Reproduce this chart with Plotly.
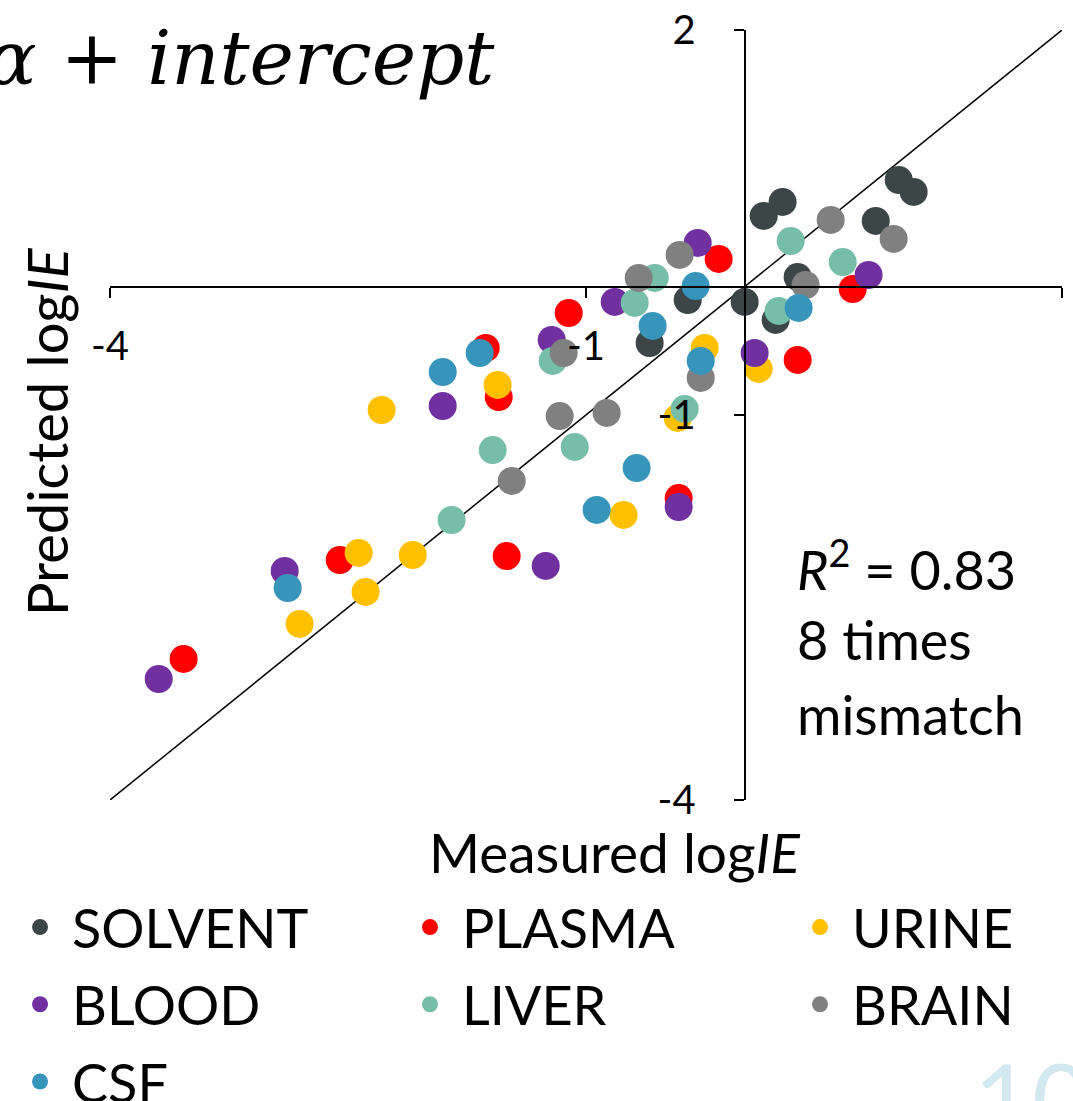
import plotly.graph_objects as go

# ---------------- data ----------------
series_names = ["SOLVENT", "PLASMA", "URINE", "BLOOD", "LIVER", "BRAIN", "CSF"]
series_colors = ["#3d4647", "#ff0000", "#ffc000", "#7030a0", "#76bea8", "#808080", "#3795bc"]

solvent_x = [0.971, 1.065, 0.239, 0.120, 0.826, 0.334, 0.000, -0.359, 0.195, -0.599]
solvent_y = [0.831, 0.738, 0.660, 0.551, 0.512, 0.076, -0.119, -0.104, -0.259, -0.439]

plasma_x = [-0.164, 0.681, -1.109, -1.632, -1.550, 0.334, -0.416, -2.552, -1.500, -3.536]
plasma_y = [0.216, -0.018, -0.205, -0.478, -0.860, -0.571, -1.647, -2.130, -2.099, -2.901]

urine_x = [-2.288, -1.557, -0.252, 0.088, -0.422, -0.763, -2.433, -2.092, -2.389, -2.805]
urine_y = [-0.961, -0.766, -0.478, -0.641, -1.023, -1.779, -2.075, -2.091, -2.379, -2.628]

blood_x = [-0.296, 0.781, -0.819, -1.216, -1.903, 0.063, -0.416, -1.254, -2.899, -3.693]
blood_y = [0.341, 0.091, -0.119, -0.415, -0.930, -0.517, -1.717, -2.176, -2.215, -3.057]

liver_x = [0.290, 0.618, -0.567, -0.693, 0.214, -1.210, -1.588, -1.071, -0.378, -1.847]
liver_y = [0.356, 0.192, 0.068, -0.127, -0.189, -0.579, -1.273, -1.249, -0.953, -1.818]

brain_x = [0.542, 0.939, -0.410, -0.668, 0.384, -1.141, -0.277, -1.166, -0.870, -1.468]
brain_y = [0.520, 0.372, 0.247, 0.068, 0.013, -0.517, -0.711, -1.008, -0.984, -1.514]

csf_x = [-0.309, 0.340, -0.580, -1.670, -1.903, -0.277, -0.681, -0.933, -2.880]
csf_y = [0.005, -0.166, -0.306, -0.517, -0.665, -0.579, -1.413, -1.740, -2.348]

identity_line = [-4, 2]

x_tickvals = [-4, -1, 2]
x_ticktext = ["-4", "-1", "2"]
y_tickvals = [-4, -1, 2]
y_ticktext = ["-4", "-1", "2"]

stats_lines = ["<i>R</i><sup>2</sup> = 0.83", "8 times", "mismatch"]

series_x = [solvent_x, plasma_x, urine_x, blood_x, liver_x, brain_x, csf_x]
series_y = [solvent_y, plasma_y, urine_y, blood_y, liver_y, brain_y, csf_y]
legend_ids = ["legend", "legend2", "legend3", "legend", "legend2", "legend3", "legend"]

FONT = "Lato"

fig = go.Figure()

fig.add_trace(go.Scatter(
    x=identity_line, y=identity_line, mode="lines",
    line=dict(color="black", width=1.5), showlegend=False, hoverinfo="skip"))

for name, color, xs, ys, lg in zip(series_names, series_colors, series_x, series_y, legend_ids):
    fig.add_trace(go.Scatter(
        x=xs, y=ys, mode="markers", name=name, legend=lg, legendgroup=name,
        marker=dict(color=color, size=28, line=dict(width=0), opacity=1)))

axis_common = dict(
    range=[-4, 2], showgrid=False, zeroline=False, showline=True,
    linecolor="black", linewidth=2, ticks="outside", ticklen=10, tickwidth=2,
    tickcolor="black", tickfont=dict(family=FONT, size=40, color="black"),
    anchor="free", position=4 / 6, fixedrange=True)

fig.update_xaxes(tickvals=x_tickvals, ticktext=x_ticktext, ticklabelstandoff=14, **axis_common)
fig.update_yaxes(tickvals=y_tickvals, ticktext=y_ticktext, ticklabelstandoff=30, **axis_common)

legend_common = dict(
    orientation="v", xanchor="left", yanchor="top", y=-0.111,
    font=dict(family=FONT, size=54, color="black"),
    bgcolor="rgba(0,0,0,0)", tracegroupgap=4, itemsizing="trace", itemwidth=54)

fig.update_layout(
    width=1073, height=1101,
    margin=dict(l=110, r=11, t=30, b=301, autoexpand=False),
    paper_bgcolor="white", plot_bgcolor="white",
    showlegend=True,
    legend=dict(x=-0.1071, **legend_common),
    legend2=dict(x=0.3025, **legend_common),
    legend3=dict(x=0.7122, **legend_common),
)

annotations = [
    dict(text="Measured log<i>IE</i>", x=0.530, y=-0.068, xref="paper", yref="paper",
         xanchor="center", yanchor="middle", showarrow=False,
         font=dict(family=FONT, size=55, color="black")),
    dict(text="Predicted log<i>IE</i>", x=-0.066, y=0.478, xref="paper", yref="paper",
         xanchor="center", yanchor="middle", showarrow=False, textangle=-90,
         font=dict(family=FONT, size=56, color="black")),
    dict(text="<i>α</i> + <i>intercept</i>", x=0.4065, y=0.964, xref="paper", yref="paper",
         xanchor="right", yanchor="middle", showarrow=False,
         font=dict(family="DejaVu Serif", size=75, color="black")),
    dict(text="10", x=0.905, y=-0.3065, xref="paper", yref="paper",
         xanchor="left", yanchor="top", showarrow=False,
         font=dict(family=FONT, size=100, color="#d3e9f1")),
]
for txt, yp in zip(stats_lines, [0.3045, 0.2078, 0.1104]):
    annotations.append(dict(text=txt, x=0.7195, y=yp, xref="paper", yref="paper",
                            xanchor="left", yanchor="middle", align="left", showarrow=False,
                            font=dict(family=FONT, size=54, color="black")))
fig.update_layout(annotations=annotations)

fig.write_html("out.html", config={"displayModeBar": False},
               post_script="document.body.style.margin='0';")
